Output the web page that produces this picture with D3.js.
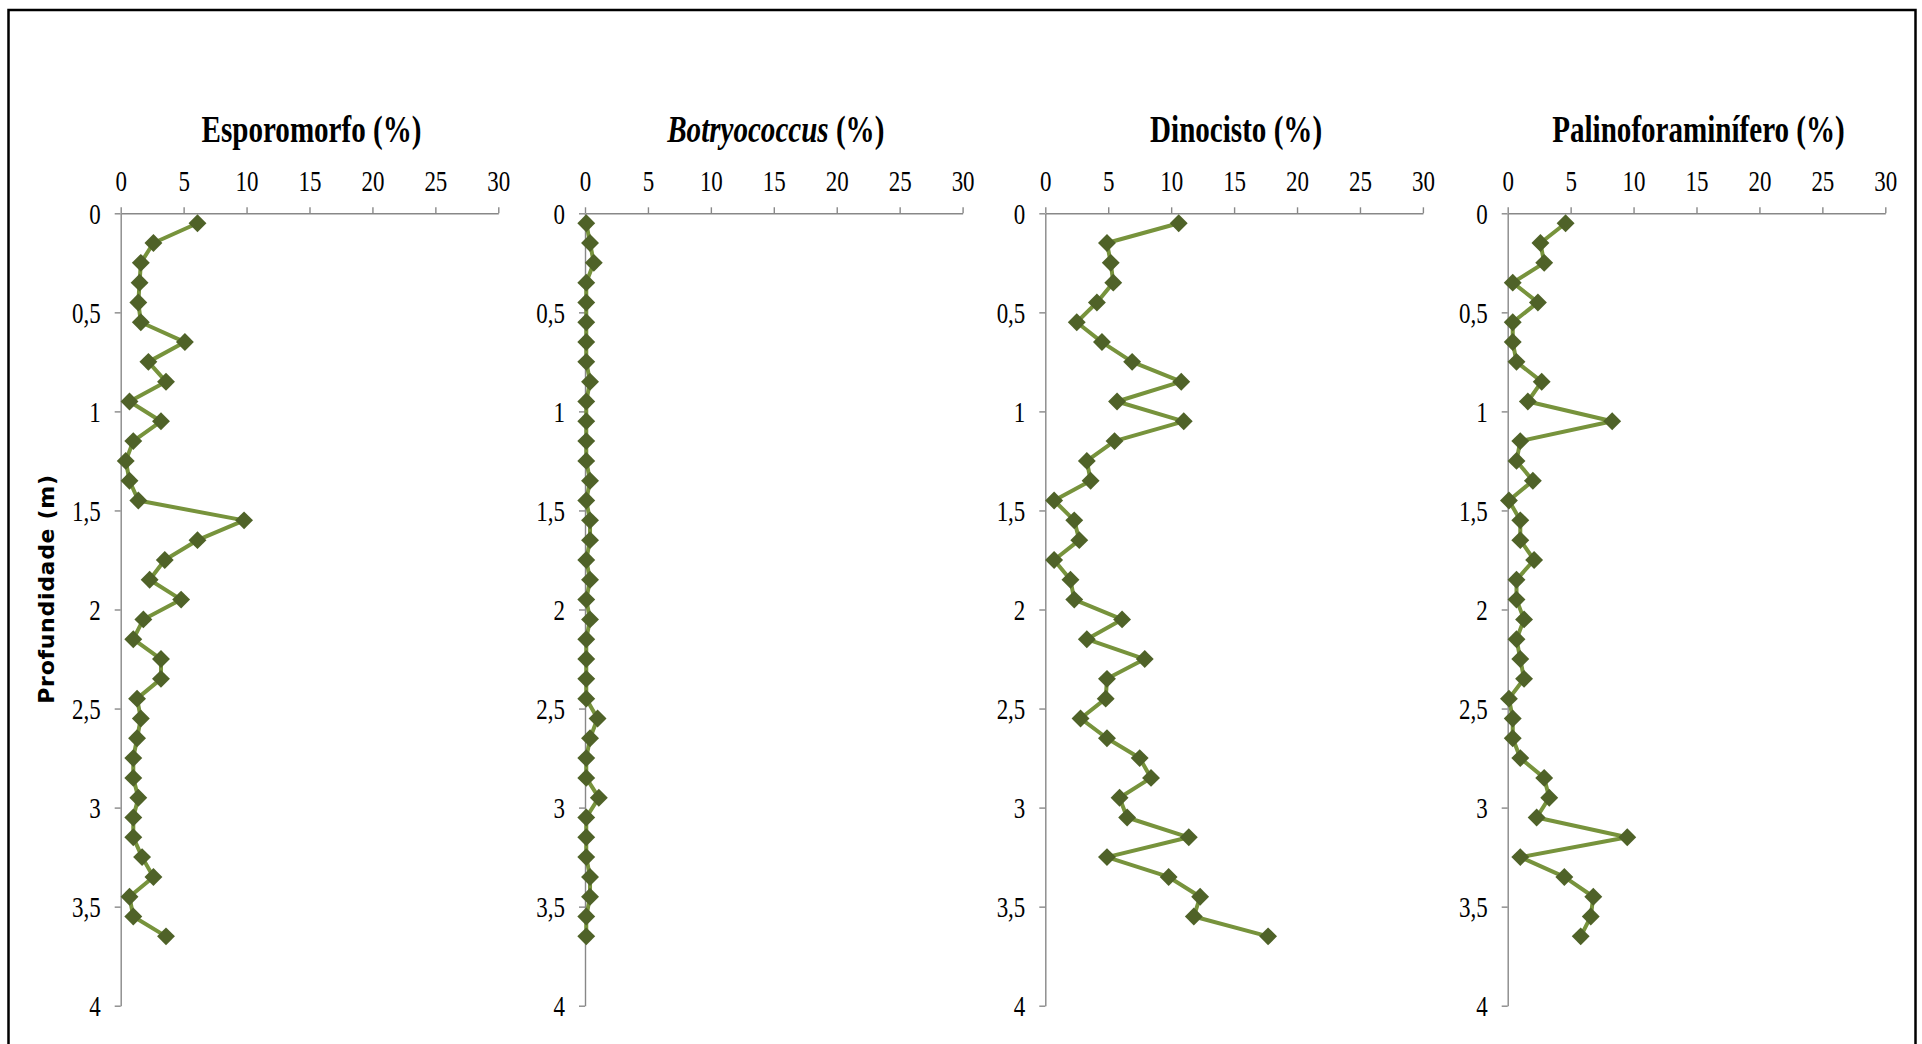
<!DOCTYPE html>
<html>
<head>
<meta charset="utf-8">
<script src="https://cdn.jsdelivr.net/npm/d3@7"></script>
<style>
  html, body { margin: 0; padding: 0; background: #fff; }
  svg { display: block; }
</style>
</head>
<body>
<svg id="chart" width="1922" height="1044"></svg>
<script>
// ---- Data ----
const depths = [0.05,0.15,0.25,0.35,0.45,0.55,0.65,0.75,0.85,0.95,1.05,1.15,1.25,1.35,1.45,1.55,1.65,1.75,1.85,1.95,
                2.05,2.15,2.25,2.35,2.45,2.55,2.65,2.75,2.85,2.95,3.05,3.15,3.25,3.35,3.45,3.55,3.65];

const esporomorfo = [6.1,2.6,1.6,1.5,1.4,1.6,5.1,2.2,3.6,0.7,3.2,1.0,0.4,0.7,1.4,9.8,6.1,3.5,2.3,4.8,
                     1.8,1.0,3.2,3.2,1.3,1.6,1.3,1.0,1.0,1.4,1.0,1.0,1.7,2.6,0.7,1.0,3.6];

const botryococcus = [0.1,0.4,0.7,0.1,0.1,0.1,0.1,0.1,0.4,0.1,0.1,0.1,0.1,0.4,0.1,0.4,0.4,0.1,0.4,0.1,
                      0.4,0.1,0.1,0.1,0.1,1.0,0.4,0.1,0.1,1.1,0.1,0.1,0.1,0.4,0.4,0.1,0.1];

const dinocisto = [10.6,4.9,5.2,5.4,4.1,2.5,4.5,6.9,10.8,5.7,11.0,5.5,3.3,3.6,0.7,2.3,2.7,0.7,2.0,2.3,
                   6.1,3.3,7.9,4.9,4.8,2.8,4.9,7.5,8.4,5.9,6.5,11.4,4.9,9.8,12.3,11.8,17.7];

const palinoforaminifero = [4.6,2.6,2.9,0.4,2.4,0.4,0.4,0.7,2.7,1.6,8.3,1.0,0.7,2.0,0.1,1.0,1.0,2.1,0.7,0.7,
                            1.3,0.7,1.0,1.3,0.1,0.4,0.4,1.0,2.9,3.3,2.3,9.5,1.0,4.5,6.8,6.6,5.8];

const xTicks = [0,5,10,15,20,25,30];
const yTicks = [0,0.5,1,1.5,2,2.5,3,3.5,4];

const panels = [
  { title: [["Esporomorfo", false], [" (%)", false]], values: esporomorfo },
  { title: [["Botryococcus", true], [" (%)", false]], values: botryococcus },
  { title: [["Dinocisto", false], [" (%)", false]], values: dinocisto },
  { title: [["Palinoforaminífero", false], [" (%)", false]], values: palinoforaminifero }
];

// ---- Layout ----
const panelX = [120.7, 585, 1045.3, 1507.7];
const panelW = 377.6;
const yTop = 213.3, yBot = 1005.7;
const serif = "'Liberation Serif', 'Times New Roman', serif";
const sx = 0.765; // horizontal text compression as in the reference

const svg = d3.select("#chart");

// frame
svg.append("rect")
  .attr("x", 8.5).attr("y", 10)
  .attr("width", 1907).attr("height", 1100)
  .attr("fill", "none").attr("stroke", "#000").attr("stroke-width", 2.5);

const y = d3.scaleLinear().domain([0, 4]).range([yTop, yBot]);

const axisColor = "#888888";
const lineColor = "#77933c";
const markerColor = "#4f6228";

panels.forEach((p, i) => {
  const x0 = panelX[i];
  const x = d3.scaleLinear().domain([0, 30]).range([x0, x0 + panelW]);
  const g = svg.append("g");

  // x axis (top)
  const gx = g.append("g")
    .attr("transform", `translate(0,${yTop})`)
    .call(d3.axisTop(x).tickValues(xTicks).tickSize(6).tickSizeOuter(0).tickPadding(16).tickFormat(d3.format("d")));

  // y axis (left)
  const gy = g.append("g")
    .attr("transform", `translate(${x0},0)`)
    .call(d3.axisLeft(y).tickValues(yTicks).tickSize(6).tickSizeOuter(0).tickPadding(14)
      .tickFormat(d => String(d).replace(".", ",")));

  [gx, gy].forEach(a => {
    a.attr("font-family", serif).attr("font-size", 30);
    a.select(".domain").attr("stroke", axisColor).attr("stroke-width", 1.4);
    a.selectAll(".tick line").attr("stroke", axisColor).attr("stroke-width", 1.4);
    a.selectAll(".tick text")
      .attr("fill", "#000")
      .style("font-family", serif)
      .style("font-size", "30px");
  });
  gx.selectAll(".tick text").each(function() {
    const t = d3.select(this);
    const yy = +t.attr("y");
    t.attr("y", 0).attr("transform", `translate(0,${yy}) scale(${sx},1)`);
  });
  gy.selectAll(".tick text").each(function() {
    const t = d3.select(this);
    const xx = +t.attr("x");
    t.attr("x", 0).attr("dy", "0.34em").attr("transform", `translate(${xx},0) scale(${sx},1)`);
  });

  // line
  const pts = depths.map((d, k) => [d, p.values[k]]);
  const line = d3.line().x(d => x(d[1])).y(d => y(d[0]));
  g.append("path")
    .datum(pts)
    .attr("d", line)
    .attr("fill", "none")
    .attr("stroke", lineColor)
    .attr("stroke-width", 4)
    .attr("stroke-linejoin", "round");

  // markers
  const sym = d3.symbol().type(d3.symbolSquare).size(160);
  g.selectAll(".m")
    .data(pts)
    .join("path")
    .attr("d", sym)
    .attr("transform", d => `translate(${x(d[1])},${y(d[0])}) rotate(45)`)
    .attr("fill", markerColor);

  // title
  const cx = x0 + panelW / 2 + 2;
  const t = g.append("text")
    .attr("transform", `translate(${cx},142) scale(${sx},1)`)
    .attr("text-anchor", "middle")
    .style("font-family", serif)
    .style("font-weight", "bold")
    .style("font-size", "38px")
    .attr("fill", "#000");
  p.title.forEach(([txt, it]) => {
    t.append("tspan").text(txt).style("font-style", it ? "italic" : "normal");
  });
});

// y label
svg.append("text")
  .attr("transform", "translate(54,589) rotate(-90)")
  .attr("text-anchor", "middle")
  .style("font-family", "'DejaVu Sans', sans-serif")
  .style("font-weight", "bold")
  .style("font-size", "22px")
  .style("letter-spacing", "0.7px")
  .attr("fill", "#000")
  .text("Profundidade (m)");
</script>
</body>
</html>
